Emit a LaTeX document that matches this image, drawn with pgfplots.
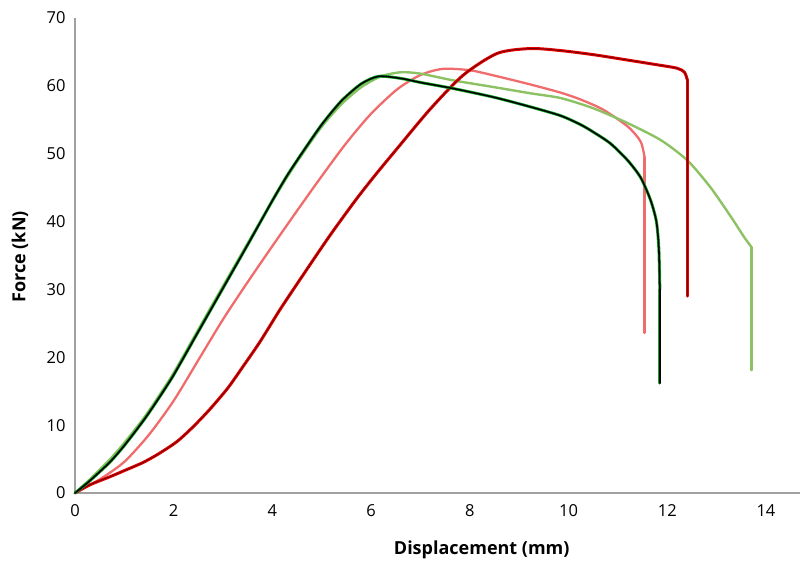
\documentclass[border=0pt]{standalone}
\usepackage{fontspec}
\setmainfont{Open Sans}
\usepackage{pgfplots}
\pgfplotsset{compat=1.18}
\usepackage{pgfplotstable}

\definecolor{axisgray}{RGB}{160,160,160}
\definecolor{lgreen}{RGB}{140,194,100}
\definecolor{pinkred}{RGB}{240,108,108}
\definecolor{brightred}{RGB}{226,0,0}
\definecolor{darkcore}{RGB}{110,0,0}
\definecolor{greenedge}{RGB}{20,170,40}

% displacement (mm), force (kN); curve up to failure, then the final drop
\pgfplotstableread{
x y
0 0
0.3 1.8
0.7 4.5
1.0 7
1.4 10.8
1.7 14
2.0 17.4
2.5 23.8
3.0 30.2
3.5 36.6
4.0 43.1
4.3 46.8
4.6 50.1
5.0 54.3
5.4 57.8
5.8 60.3
6.15 61.4
6.6 61.1
7.0 60.5
7.67 59.6
8.5 58.3
9.23 56.9
9.84 55.6
10.24 54.3
10.5 53.2
10.85 51.5
11.2 49
11.46 46.5
11.66 43.2
11.78 40
11.83 36
11.85 30
}\darkgreen
\pgfplotstableread{
x y
11.85 30
11.85 16.2
}\darkgreendrop

\pgfplotstableread{
x y
0 0
0.3 2
0.7 4.9
1.0 7.4
1.4 11.1
1.7 14.3
2.0 17.7
2.5 24.1
3.0 30.5
3.5 36.8
4.0 43
4.3 46.6
4.6 49.9
5.0 54
5.4 57.3
5.8 59.8
6.2 61.4
6.6 62
7.0 61.8
7.67 60.8
8.5 59.8
9.23 58.9
9.84 58.2
10.5 56.7
11.2 54.5
11.87 52
12.41 49
12.88 45
13.3 40.6
13.55 37.8
13.71 36.2
}\lightgreen
\pgfplotstableread{
x y
13.71 36.2
13.71 18.1
}\lightgreendrop

\pgfplotstableread{
x y
0 0
0.5 2
1.0 4.6
1.5 8.6
2.0 13.6
2.5 19.6
3.0 25.6
3.5 31.1
4.0 36.4
4.5 41.6
5.0 46.7
5.5 51.6
6.0 55.9
6.53 59.5
7.0 61.6
7.45 62.5
8.0 62.3
8.56 61.4
9.23 60.2
9.84 59
10.24 58
10.7 56.5
11.2 54
11.46 51.8
11.54 49.5
}\pinkdata
\pgfplotstableread{
x y
11.54 49.5
11.54 23.6
}\pinkdrop

\pgfplotstableread{
x y
0 0
0.3 1.2
0.71 2.4
1.0 3.3
1.38 4.5
1.7 5.8
2.07 7.6
2.4 9.8
2.74 12.4
3.1 15.5
3.41 18.7
3.75 22.3
4.16 27.1
4.6 31.9
5.17 38
5.7 43.3
6.1 47
6.52 50.7
7.2 56.6
7.87 61.6
8.56 64.8
9.23 65.5
9.84 65.2
10.5 64.6
11.2 63.8
11.8 63.1
12.2 62.6
12.35 62
12.41 60.8
}\darkred
\pgfplotstableread{
x y
12.41 60.8
12.41 29
}\darkreddrop

\begin{document}
\begin{tikzpicture}
\useasboundingbox (-75pt,-68pt) rectangle (728pt,493pt);
\begin{axis}[
    scale only axis,
    width=725pt,
    height=475pt,
    xmin=0, xmax=14.69,
    ymin=0, ymax=70,
    xtick={0,2,...,14},
    ytick={0,10,...,70},
    axis lines*=left,
    axis line style={axisgray, line width=1.4pt, -},
    major tick length=0pt,
    tick label style={font=\fontsize{16.5}{18}\selectfont},
    /pgf/number format/assume math mode=true,
    xticklabel style={yshift=-8pt},
    yticklabel style={xshift=-6pt},
    xlabel={Displacement (mm)},
    ylabel={Force (kN)},
    label style={font=\bfseries\fontsize{18}{20}\selectfont},
    xlabel style={at={(axis description cs:0.561,-0.12)}, anchor=center},
    ylabel style={at={(axis description cs:-0.076,0.497)}, anchor=center},
    every axis plot/.append style={line join=round, line cap=round},
    clip=false,
]
\addplot[pinkred, line width=2.3pt, smooth, tension=0.45] table {\pinkdata};
\addplot[pinkred, line width=2.3pt] table {\pinkdrop};
\addplot[lgreen, line width=2.4pt, smooth, tension=0.45] table {\lightgreen};
\addplot[lgreen, line width=2.4pt] table {\lightgreendrop};
\addplot[brightred, line width=3pt, smooth, tension=0.45] table {\darkred};
\addplot[brightred, line width=3pt] table {\darkreddrop};
\addplot[darkcore, line width=0.8pt, smooth, tension=0.45] table {\darkred};
\addplot[darkcore, line width=1pt] table {\darkreddrop};
\addplot[greenedge, line width=3pt, smooth, tension=0.45] table {\darkgreen};
\addplot[greenedge, line width=3pt] table {\darkgreendrop};
\addplot[black, line width=1.6pt, smooth, tension=0.45] table {\darkgreen};
\addplot[black, line width=1.6pt] table {\darkgreendrop};
\end{axis}
\end{tikzpicture}
\end{document}
